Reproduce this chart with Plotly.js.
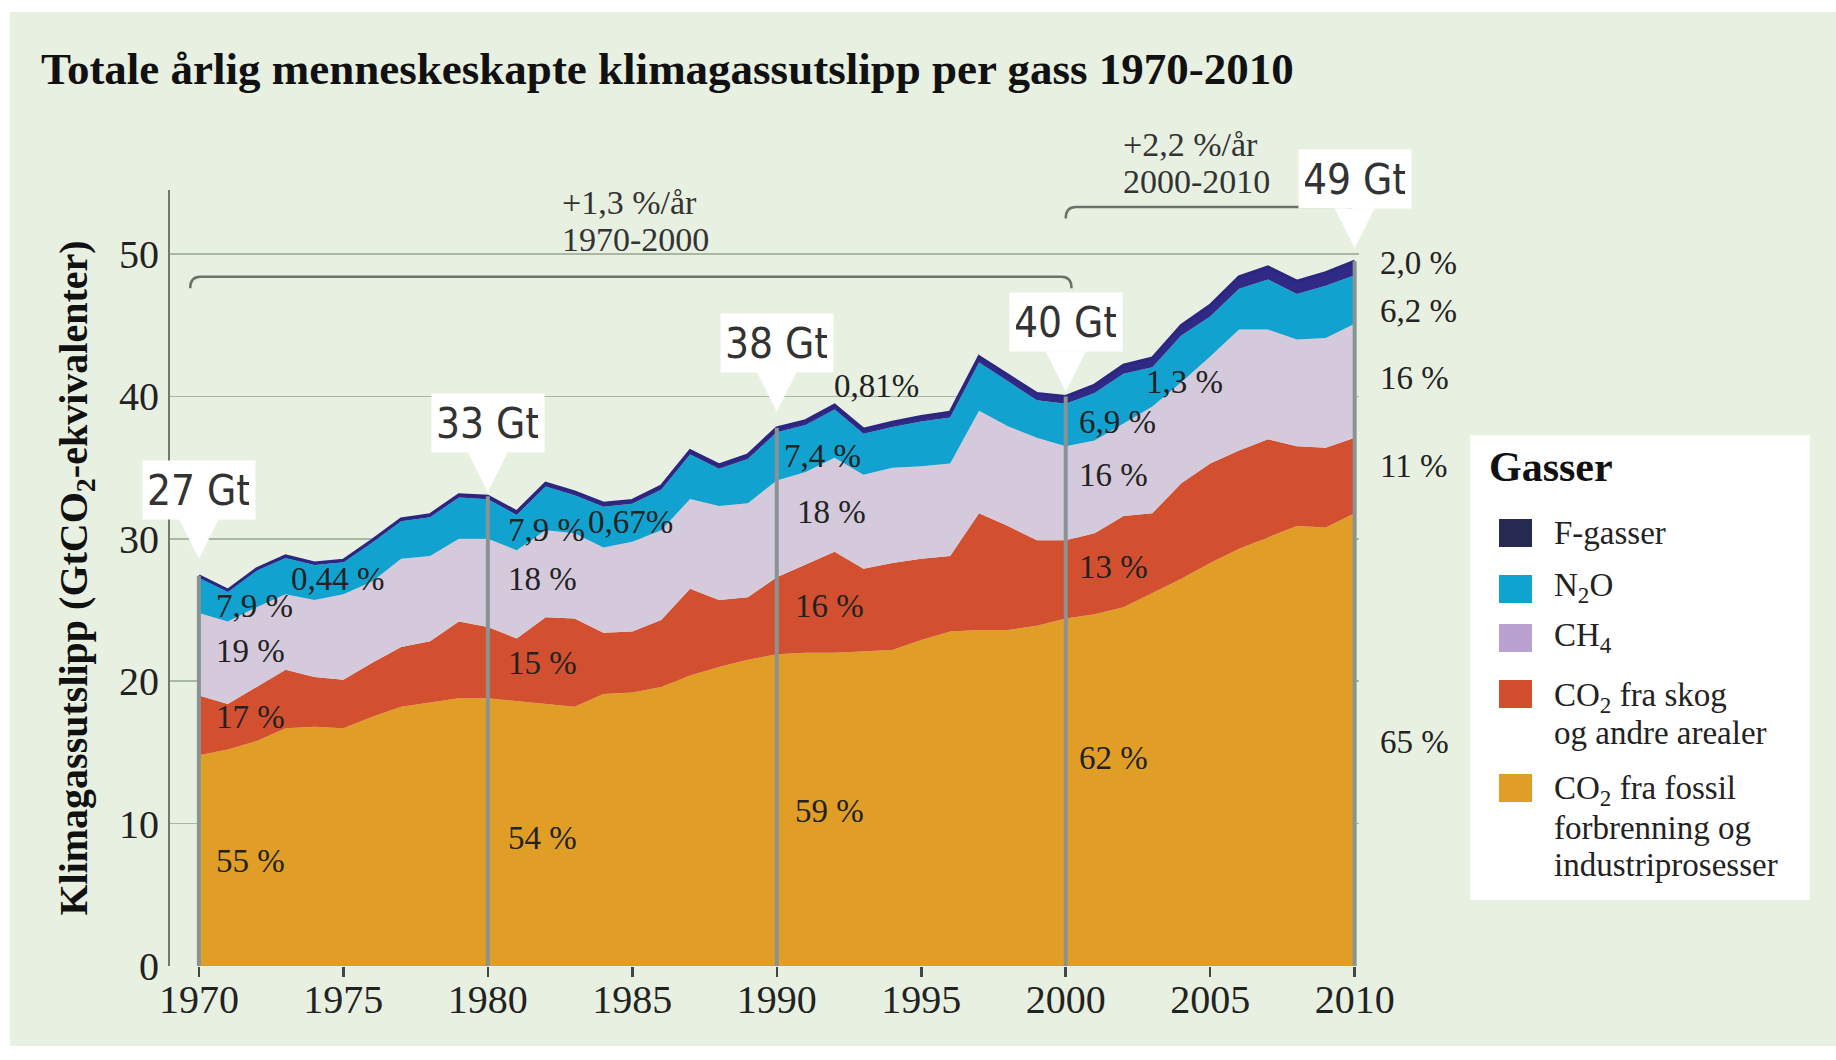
<!DOCTYPE html>
<html>
<head>
<meta charset="utf-8">
<script src="https://cdn.plot.ly/plotly-3.0.1.min.js"></script>
<style>
  html, body { margin: 0; padding: 0; background: #ffffff; }
  #chart { position: absolute; left: 10px; top: 12px; width: 1826px; height: 1034px; }
</style>
</head>
<body>
<div id="chart"></div>
<script>
// ---------------- DATA (GtCO2-eq per year) ----------------
const years = [1970,1971,1972,1973,1974,1975,1976,1977,1978,1979,
               1980,1981,1982,1983,1984,1985,1986,1987,1988,1989,
               1990,1991,1992,1993,1994,1995,1996,1997,1998,1999,
               2000,2001,2002,2003,2004,2005,2006,2007,2008,2009,2010];

const co2Fossil = [14.8,15.2,15.8,16.7,16.8,16.7,17.5,18.2,18.5,18.8,
                   18.8,18.6,18.4,18.2,19.1,19.2,19.6,20.4,21.0,21.5,
                   21.9,22.0,22.0,22.1,22.2,22.9,23.5,23.6,23.6,23.9,
                   24.4,24.7,25.2,26.2,27.2,28.3,29.3,30.1,30.9,30.8,31.8];

const co2Folu   = [4.2,3.2,3.8,4.1,3.5,3.4,3.8,4.2,4.3,5.4,
                   5.0,4.4,6.1,6.2,4.3,4.3,4.7,6.1,4.7,4.4,
                   5.4,6.2,7.1,5.8,6.1,5.7,5.3,8.2,7.3,6.0,
                   5.5,5.7,6.4,5.6,6.7,7.0,6.9,6.9,5.6,5.6,5.3];

const ch4       = [5.8,5.8,5.6,5.3,5.4,6.0,5.7,6.2,6.0,5.8,
                   6.2,6.2,6.1,6.0,6.0,6.3,6.3,6.3,6.6,6.6,
                   6.8,6.5,6.6,6.6,6.7,6.5,6.5,7.2,7.0,7.2,
                   6.6,6.5,6.5,7.5,7.1,7.5,8.5,7.7,7.5,7.7,8.0];

const n2o       = [2.48,2.08,2.57,2.56,2.46,2.25,2.74,2.63,2.72,2.90,
                   2.78,2.48,3.07,2.67,2.86,2.66,2.85,3.13,2.62,3.11,
                   3.39,3.29,3.38,2.88,2.86,3.14,3.22,3.38,3.16,2.63,
                   2.98,3.34,3.50,2.75,3.29,2.82,2.86,3.52,3.20,3.67,3.42];

const fGas      = [0.12,0.12,0.13,0.14,0.14,0.15,0.16,0.17,0.18,0.20,
                   0.22,0.22,0.23,0.23,0.24,0.24,0.25,0.27,0.28,0.29,
                   0.31,0.31,0.32,0.32,0.34,0.36,0.38,0.42,0.44,0.47,
                   0.52,0.56,0.60,0.65,0.71,0.78,0.84,0.88,0.90,0.93,0.98];

const seriesNames = ['CO<sub>2</sub> fra fossil forbrenning og industriprosesser',
                     'CO<sub>2</sub> fra skog og andre arealer',
                     'CH<sub>4</sub>', 'N<sub>2</sub>O', 'F-gasser'];

const tickYears = [1970,1975,1980,1985,1990,1995,2000,2005,2010];
const yTicks = [0,10,20,30,40,50];

const milestoneYears  = [1970,1980,1990,2000,2010];
const milestoneLabels = ['27 Gt','33 Gt','38 Gt','40 Gt','49 Gt'];

// share labels per milestone year
const shareFossil = ['55 %','54 %','59 %','62 %','65 %'];
const shareFolu   = ['17 %','15 %','16 %','13 %','11 %'];
const shareCh4    = ['19 %','18 %','18 %','16 %','16 %'];
const shareN2o    = ['7,9 %','7,9 %','7,4 %','6,9 %','6,2 %'];
const shareFgas   = ['0,44 %','0,67%','0,81%','1,3 %','2,0 %'];

const growthTexts = [['+1,3 %/år','1970-2000'], ['+2,2 %/år','2000-2010']];
const growthSpans = [[1970,2000],[2000,2010]];

const legendTitle = 'Gasser';
const legendItems = [
  ['F-gasser'],
  ['N<sub>2</sub>O'],
  ['CH<sub>4</sub>'],
  ['CO<sub>2</sub> fra skog','og andre arealer'],
  ['CO<sub>2</sub> fra fossil','forbrenning og','industriprosesser']
];

// ---------------- STYLE ----------------
const SERIF  = '"Liberation Serif", "DejaVu Serif", serif';
const NARROW = '"Liberation Sans Narrow", "DejaVu Sans Condensed", "Liberation Sans", sans-serif';
const BG = '#e7f0e1';
const areaColors = ['#e09e27', '#d2502f', '#d5cadc', '#12a2d0', '#2f2a86'];
const legendColors = ['#262a52', '#0fa3d1', '#b9a1d2', '#d24e2e', '#e09e27'];
const TXT = '#222222';

const W_DIV = 1826, H_DIV = 1034;
const M = {l: 160, r: 477, t: 178, b: 80};
const PW = W_DIV - M.l - M.r, PH = H_DIV - M.t - M.b;
const X_RANGE = [1969, 2010.15];
const Y_RANGE = [0, 54.5];

const totals = years.map((_, i) => co2Fossil[i] + co2Folu[i] + ch4[i] + n2o[i] + fGas[i]);
const totalAt = yr => totals[years.indexOf(yr)];

// helpers for positions outside the axis ranges
const xPaper = yr => (yr - X_RANGE[0]) / (X_RANGE[1] - X_RANGE[0]);
const yPaper = v => (v - Y_RANGE[0]) / (Y_RANGE[1] - Y_RANGE[0]);
const pxX = px => (px - M.l) / PW;
const pxY = py => (M.t + PH - py) / PH;

// ---------------- TRACES ----------------
const layers = [co2Fossil, co2Folu, ch4, n2o, fGas];
const traces = layers.map((vals, k) => ({
  type: 'scatter',
  mode: 'lines',
  x: years,
  y: vals,
  name: seriesNames[k],
  stackgroup: 'gas',
  fillcolor: areaColors[k],
  line: k === 4 ? {color: '#2c2680', width: 3} : {width: 0, color: areaColors[k]},
  showlegend: false,
  hoverinfo: 'skip'
}));

// ---------------- SHAPES ----------------
const shapes = [];
// vertical milestone lines
milestoneYears.forEach(yr => {
  shapes.push({type: 'line', xref: 'x', yref: 'y', x0: yr, x1: yr, y0: 0, y1: totalAt(yr),
               line: {color: '#8a9393', width: 4}, layer: 'above'});
});
// growth brackets
const bracketY = [48.4, 53.3];
growthSpans.forEach((sp, j) => {
  const x0 = sp[0] - (j === 0 ? 0.3 : 0.0), x1 = sp[1] + (j === 0 ? 0.2 : 0.0);
  const yl = bracketY[j], yd = yl - 0.8, dx = 0.35;
  shapes.push({type: 'path', xref: 'x', yref: 'y', layer: 'above',
    path: `M ${x0},${yd} Q ${x0},${yl} ${x0 + dx},${yl} L ${x1 - dx},${yl} Q ${x1},${yl} ${x1},${yd}`,
    line: {color: '#68736a', width: 2.5}});
});
// legend box and swatches
shapes.push({type: 'rect', xref: 'paper', yref: 'paper', layer: 'above',
  x0: pxX(1460), x1: pxX(1800), y0: pxY(888), y1: pxY(423),
  fillcolor: '#ffffff', line: {width: 0}});
const swatchCenters = [521, 577, 626, 682, 776];
swatchCenters.forEach((cy, k) => {
  shapes.push({type: 'rect', xref: 'paper', yref: 'paper', layer: 'above',
    x0: pxX(1489), x1: pxX(1522), y0: pxY(cy + 14), y1: pxY(cy - 14),
    fillcolor: legendColors[k], line: {width: 0}});
});

// ---------------- ANNOTATIONS ----------------
const ann = [];
// milestone callouts (white boxes with pointer)
const gaps = [17, 4, 16, 5, 13];
milestoneYears.forEach((yr, i) => {
  ann.push({x: yr, y: totalAt(yr), xref: 'x', yref: 'y', text: milestoneLabels[i],
    showarrow: true, arrowhead: 2, arrowsize: 4, arrowwidth: 2, arrowcolor: '#ffffff',
    ax: 0, ay: -(gaps[i] + 40 + 29), standoff: gaps[i],
    bgcolor: '#ffffff', borderpad: 6, width: 100, height: 46,
    font: {family: NARROW, size: 42, color: '#333333'}});
});
// share labels
const shareRows = [shareFossil, shareFolu, shareCh4, shareN2o, shareFgas];
const sharePos = [
  // [x, y] per row (fossil, folu, ch4, n2o, fgas) for 1970,1980,1990,2000,2010
  [[1970.53, 7.4], [1970.53, 17.5], [1970.53, 22.1], [1970.53, 25.3], [1973.12, 27.2]],
  [[1980.62, 9.0], [1980.62, 21.3], [1980.62, 27.2], [1980.62, 30.6], [1983.4, 31.2]],
  [[1990.55, 10.9], [1990.55, 25.3], [1990.63, 31.9], [1990.19, 35.8], [1991.9, 40.7]],
  [[2000.4, 14.6], [2000.4, 28.0], [2000.4, 34.5], [2000.4, 38.2], [2002.71, 41.0]],
  [[2010.8, 15.7], [2010.8, 35.1], [2010.8, 41.3], [2010.8, 46.0], [2010.8, 49.4]]
];
sharePos.forEach((col, i) => {
  col.forEach((p, r) => {
    const outside = p[0] > X_RANGE[1];
    ann.push({x: outside ? xPaper(p[0]) : p[0], y: outside ? yPaper(p[1]) : p[1],
      xref: outside ? 'paper' : 'x', yref: outside ? 'paper' : 'y',
      text: shareRows[r][i], showarrow: false, xanchor: 'left', yanchor: 'middle',
      font: {family: SERIF, size: 33, color: TXT}});
  });
});
// growth texts
const growthPos = [[1982.5, 53.6, 51.0], [2001.9, 57.7, 55.1]];
growthTexts.forEach((lines, j) => {
  lines.forEach((t, r) => {
    ann.push({x: growthPos[j][0], y: yPaper(growthPos[j][1 + r]), xref: 'x', yref: 'paper',
      text: t, showarrow: false, xanchor: 'left', yanchor: 'middle',
      font: {family: SERIF, size: 34, color: '#333333'}});
  });
});
// legend texts
ann.push({x: pxX(1477), y: pxY(455), xref: 'paper', yref: 'paper', text: legendTitle,
  showarrow: false, xanchor: 'left', yanchor: 'middle',
  font: {family: SERIF, size: 42, weight: 700, color: '#111111'}});
const legendLineY = [[521], [575], [625], [685, 721], [778, 816, 853]];
legendItems.forEach((lines, k) => {
  lines.forEach((t, r) => {
    ann.push({x: pxX(1542), y: pxY(legendLineY[k][r]), xref: 'paper', yref: 'paper', text: t,
      showarrow: false, xanchor: 'left', yanchor: 'middle',
      font: {family: SERIF, size: 33, color: TXT}});
  });
});

// ---------------- LAYOUT ----------------
const layout = {
  width: W_DIV, height: H_DIV,
  margin: M,
  paper_bgcolor: BG, plot_bgcolor: BG,
  showlegend: false,
  hovermode: false,
  title: {text: 'Totale årlig menneskeskapte klimagassutslipp per gass 1970-2010',
          xref: 'container', yref: 'container', x: 31 / W_DIV, xanchor: 'left',
          y: 1 - 56 / H_DIV, yanchor: 'middle',
          font: {family: SERIF, size: 45, weight: 700, color: '#111111'}},
  xaxis: {range: X_RANGE, tickvals: tickYears, ticks: 'outside', ticklen: 10, tickwidth: 2.5,
          tickcolor: '#444444', showgrid: false, zeroline: false, showline: false,
          ticklabelstandoff: -12,
          tickfont: {family: SERIF, size: 40, color: TXT}},
  yaxis: {range: Y_RANGE, tickvals: yTicks, ticks: '', showgrid: true, gridcolor: '#a9b7a5',
          gridwidth: 1.5, zeroline: false, showline: true, linecolor: '#6e7a6e', linewidth: 2,
          ticklabelstandoff: 1,
          tickfont: {family: SERIF, size: 40, color: TXT},
          title: {text: 'Klimagassutslipp (GtCO<sub>2</sub>-ekvivalenter)', standoff: 19,
                  font: {family: SERIF, size: 40, weight: 700, color: '#111111'}}},
  shapes: shapes,
  annotations: ann
};

Plotly.newPlot('chart', traces, layout, {displayModeBar: false, staticPlot: true});
</script>
</body>
</html>
